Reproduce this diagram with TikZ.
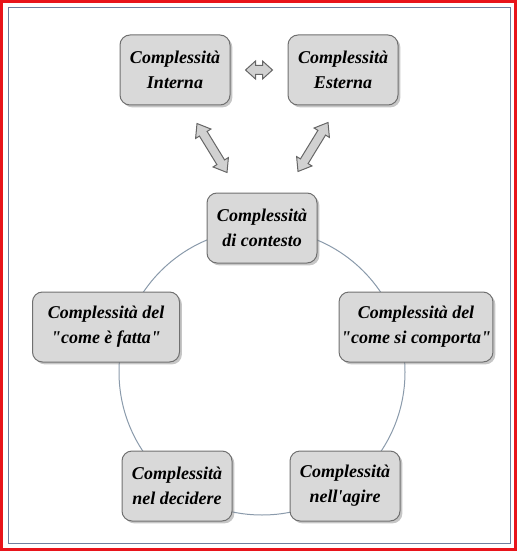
\documentclass[tikz,border=0pt]{standalone}
\usepackage{fontspec}
\setmainfont{Liberation Serif}
\usetikzlibrary{calc,shadows}
\definecolor{boxfill}{HTML}{D9D9D9}
\definecolor{boxline}{HTML}{707070}
\definecolor{ring}{HTML}{8A9AAB}
\definecolor{frame}{HTML}{6F7F9F}
\definecolor{outer}{HTML}{E8141B}

% hollow block arrow with two heads: from, to, head length
\newcommand{\dblarrow}[3]{%
  \path[link] let \p1=($(#2)-(#1)$), \n1={atan2(\y1,\x1)}, \n2={veclen(\x1,\y1)} in
    [shift={(#1)}, rotate=\n1]
    (0pt,0pt) -- (#3,4.5pt) -- (#3,2.25pt) -- ({\n2-#3},2.25pt)
    -- ({\n2-#3},4.5pt) -- ({\n2},0pt) -- ({\n2-#3},-4.5pt)
    -- ({\n2-#3},-2.25pt) -- (#3,-2.25pt) -- (#3,-4.5pt) -- cycle;}

\begin{document}
\begin{tikzpicture}[x=0.5pt, y=-0.5pt,
    area/.style={rectangle, rounded corners=5pt, draw=boxline, fill=boxfill,
      line width=0.5pt, minimum width=#1, minimum height=35pt, align=center,
      inner sep=1pt, font=\fontsize{9}{12.5}\selectfont\bfseries\itshape,
      drop shadow={shadow xshift=1.2pt, shadow yshift=-1.2pt, opacity=0.45}},
    area/.default=55pt,
    link/.style={draw=black!60, fill=black!18, line width=0.5pt, line join=miter},
  ]
  \useasboundingbox (0,0) rectangle (517,551);
  \draw[outer, line width=1.5pt] (1.5,1.5) rectangle (515.5,549.5);
  \draw[frame, line width=0.5pt] (8,8) rectangle (510,543);

  % ring behind the boxes
  \draw[ring, line width=0.5pt] (262,372) circle[radius=71.5pt];

  \node[area] (int) at (175,70) {Complessità\\Interna};
  \node[area] (ext) at (343,70) {Complessità\\Esterna};
  \node[area] (ctx) at (262,228) {Complessità\\di contesto};
  \node[area=73.5pt] (fat) at (106,327) {Complessità del\\\textquotedbl come è fatta\textquotedbl};
  \node[area=73.5pt] (cmp) at (416,327) {Complessità del\\\textquotedbl come si comporta\textquotedbl};
  \node[area] (dec) at (177,486) {Complessità\\nel decidere};
  \node[area] (agi) at (345,486) {Complessità\\nell\textquotesingle agire};

  \coordinate (ie1) at ($(int.east)+(15,0)$);
  \coordinate (ie2) at ($(ext.west)+(-15,0)$);
  \coordinate (ic1) at ($(int.south)+(22,18)$);
  \coordinate (ic2) at ($(ctx.north)+(-35,-20)$);
  \coordinate (ec1) at ($(ext.south)+(-15,17)$);
  \coordinate (ec2) at ($(ctx.north)+(36,-21)$);

  \dblarrow{ie1}{ie2}{5pt}
  \dblarrow{ic1}{ic2}{6pt}
  \dblarrow{ec1}{ec2}{6pt}
\end{tikzpicture}
\end{document}
